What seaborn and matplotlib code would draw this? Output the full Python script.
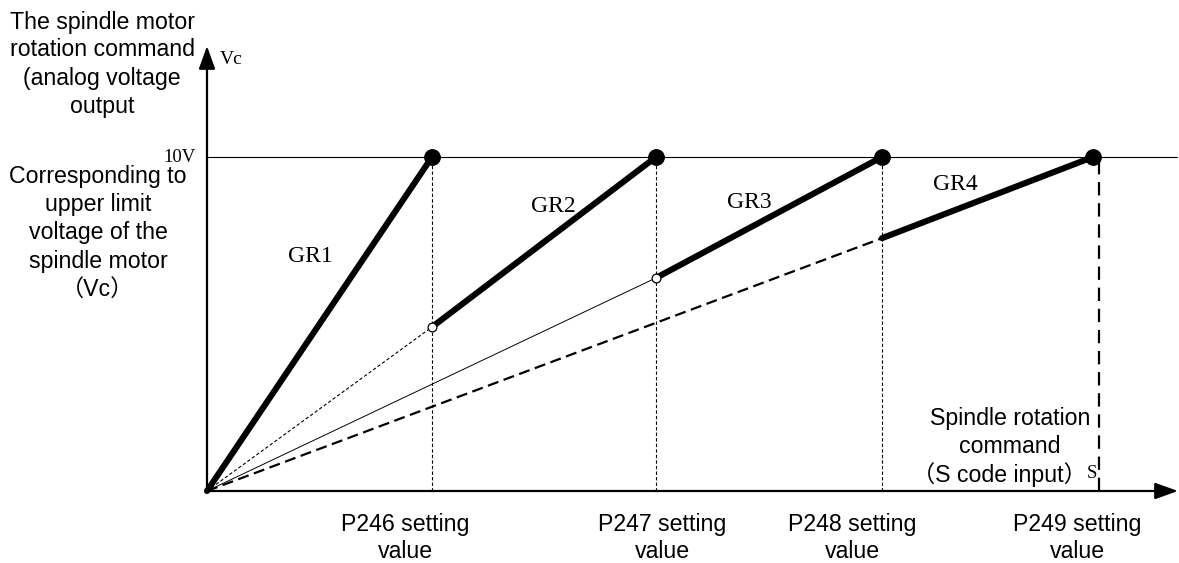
import matplotlib
matplotlib.use("Agg")
import matplotlib.pyplot as plt
import seaborn as sns
import pandas as pd

# Gear-range diagram: analog spindle voltage vs. S-code command
gears = ["GR1", "GR2", "GR3", "GR4"]
p_labels = ["P246 setting\nvalue", "P247 setting\nvalue", "P248 setting\nvalue", "P249 setting\nvalue"]
p_settings = [225, 449, 675, 886]          # S command where each gear reaches the limit
gear_start_s = [0, 225, 449, 675]          # S command where each gear begins
gear_start_v = [0.0, 4.91, 6.38, 7.57]     # voltage at the start of each gear
v_limit = 10.0                             # upper limit voltage (10V)

sns.set_theme(style="white")
plt.rcParams["font.family"] = ["Liberation Sans", "Noto Sans CJK SC", "DejaVu Sans"]
plt.rcParams["text.color"] = "black"
SANS = ["Liberation Sans", "Noto Sans CJK SC", "DejaVu Sans"]
SERIF = ["Liberation Serif", "DejaVu Serif"]

W, H = 1179, 563
fig = plt.figure(figsize=(W / 100, H / 100), dpi=100)
ax = fig.add_axes([0, 0, 1, 1])
ox, oy = 207, 491          # origin in pixels
px_per_v = 33.4
ax.set_xlim(-ox, W - ox)
ax.set_ylim(-(H - oy) / px_per_v, oy / px_per_v)
ax.axis("off")


def ptext(x, y, s, ha="center", **kw):
    fig.text(x / W, 1 - y / H, s, ha=ha, va="center", color="black", **kw)


# axes with arrow heads
arrow = dict(arrowstyle="-|>,head_length=0.7,head_width=0.25", lw=1.6,
             color="black", mutation_scale=20, shrinkA=0, shrinkB=0)
ax.annotate("", xy=(0, (oy - 46) / px_per_v), xytext=(0, 0), arrowprops=arrow)
ax.annotate("", xy=(W - ox - 1, 0), xytext=(0, 0), arrowprops=arrow)

# 10V limit line
ax.plot([0, W - ox - 2], [v_limit, v_limit], color="black", lw=0.8)

# guide lines from the origin to the start of gears 2-4
guide_styles = [dict(ls=(0, (3, 2)), lw=0.8),
                dict(ls="-", lw=0.7),
                dict(ls=(0, (5, 2.5)), lw=1.6)]
for s0, v0, st in zip(gear_start_s[1:], gear_start_v[1:], guide_styles):
    sns.lineplot(x=[0, s0], y=[0, v0], ax=ax, color="black",
                 linestyle=st["ls"], linewidth=st["lw"], sort=False)

# vertical drops from each limit point to the S axis
for i, s in enumerate(p_settings):
    if i < 3:
        ax.plot([s, s], [0, v_limit], color="black", lw=0.8, ls=(0, (3, 2)))
    else:
        ax.plot([s + 6, s + 6], [0, v_limit], color="black", lw=1.6, ls=(0, (6, 3.5)))

# gear characteristic segments
seg = pd.DataFrame({
    "gear": [g for g in gears for _ in range(2)],
    "S": [v for a, b in zip(gear_start_s, p_settings) for v in (a, b)],
    "V": [v for a in gear_start_v for v in (a, v_limit)],
})
for g, d in seg.groupby("gear"):
    sns.lineplot(data=d, x="S", y="V", ax=ax, color="black", linewidth=4.4,
                 sort=False, zorder=4)

# limit points and gear switch points
sns.scatterplot(x=p_settings, y=[v_limit] * 4, ax=ax, color="black", s=125,
                edgecolor="black", zorder=5)
sns.scatterplot(x=gear_start_s[1:3], y=gear_start_v[1:3], ax=ax, color="white",
                s=40, edgecolor="black", linewidth=0.9, zorder=6)

# gear labels
for g, (x, y) in zip(gears, [(310, 257), (553, 207), (749, 203), (955, 185)]):
    ptext(x, y, g, family=SERIF, fontsize=17)

# axis annotations
ptext(180, 157, "10V", family=SERIF, fontsize=13.5)
ptext(231, 59, "Vc", family=SERIF, fontsize=14)
ptext(1087, 474, "S", ha="left", family=SERIF, fontsize=13.5)

left_top = ["The spindle motor", "rotation command", "(analog voltage", "output"]
for i, line in enumerate(left_top):
    ptext(102, 22 + 28 * i, line, family=SANS, fontsize=16.7)
left_mid = ["Corresponding to", "upper limit", "voltage of the", "spindle motor", "（Vc）"]
for i, line in enumerate(left_mid):
    ptext(98, 176 + 28.5 * i, line, family=SANS, fontsize=16.7)

for i, line in enumerate(["Spindle rotation", "command"]):
    ptext(1010, 418 + 28.5 * i, line, family=SANS, fontsize=16.7)
ptext(1087, 475, "（S code input）", ha="right", family=SANS, fontsize=16.7)

for lbl, x in zip(p_labels, [405, 662, 852, 1077]):
    top, bottom = lbl.split("\n")
    ptext(x, 525, top, family=SANS, fontsize=16.7)
    ptext(x, 552, bottom, family=SANS, fontsize=16.7)

fig.savefig("out.png", dpi=100)
